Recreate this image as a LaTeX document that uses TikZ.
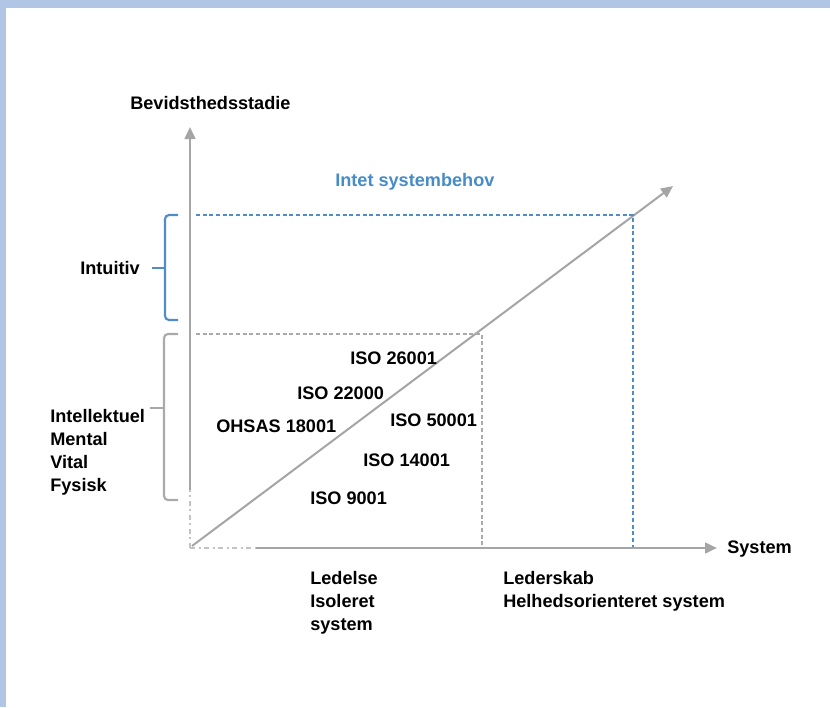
\documentclass[tikz,border=0pt]{standalone}
\usepackage{fontspec}
\setmainfont{Liberation Sans}
\usetikzlibrary{arrows.meta}
\definecolor{frameblue}{RGB}{176,198,228}
\definecolor{axisgray}{RGB}{165,165,165}
\definecolor{lightgray}{RGB}{195,195,195}
\definecolor{dashgray}{RGB}{170,170,170}
\definecolor{lineblue}{RGB}{80,140,200}
\definecolor{textblue}{RGB}{70,140,200}
\tikzset{
  lbl/.style={font=\bfseries\fontsize{13.6}{17.3}\selectfont, inner sep=0pt, anchor=west, align=left},
  axisline/.style={draw=axisgray, line width=1.9pt},
  tipstyle/.style={-{Triangle[length=9pt,width=8pt]}},
  dashdot/.style={draw=lightgray, line width=1.9pt, dash pattern=on 4pt off 2.5pt on 1.5pt off 2.5pt},
  gdash/.style={draw=dashgray, line width=1.1pt, dash pattern=on 3pt off 2pt},
  bdash/.style={draw=lineblue, line width=1.1pt, dash pattern=on 3pt off 2pt},
  bracket/.style={line width=1.6pt, rounded corners=3pt}
}
\begin{document}
\begin{tikzpicture}[x=0.75pt,y=-0.75pt]
\useasboundingbox (0,0) rectangle (830,707);
% frame
\fill[frameblue] (0,0) rectangle (830,8);
\fill[frameblue] (0,0) rectangle (6,707);
% key points
\coordinate (O) at (190,548);
\coordinate (Ytip) at (190,127);
\coordinate (Ybreak) at (190,490);
\coordinate (Xtip) at (717,548);
\coordinate (Xbreak) at (256,548);
\coordinate (Dstart) at (192,546);
\coordinate (Dtip) at (673,186);
\coordinate (G1) at (196,334);
\coordinate (G2) at (482,334);
\coordinate (G3) at (482,547);
\coordinate (B1) at (196,215);
\coordinate (B2) at (633,215);
\coordinate (B3) at (633,547);
% axes
\draw[axisline, tipstyle, fill=axisgray] (Ybreak) -- (Ytip);
\draw[dashdot] (O) -- (Ybreak);
\draw[axisline, tipstyle, fill=axisgray] (Xbreak) -- (Xtip);
\draw[dashdot] (O) -- (Xbreak);
\draw[axisline, tipstyle, fill=axisgray, line width=1.5pt] (Dstart) -- (Dtip);
% dashed guides
\draw[gdash] (G1) -- (G2) -- (G3);
\draw[bdash] (B1) -- (B2) -- (B3);
% brackets
\draw[lineblue, bracket] (178,215) -- (165,215) -- (165,320) -- (178,320);
\draw[lineblue, line width=1.6pt] (165,268) -- (152,268);
\draw[dashgray, bracket] (178,334) -- (164,334) -- (164,500) -- (178,500);
\draw[dashgray, line width=1.6pt] (164,408) -- (150,408);
% labels
\node[lbl] (ytitle) at (130,103) {Bevidsthedsstadie};
\node[lbl, text=textblue] (intet) at (335,182) {Intet systembehov};
\node[lbl] (intuitiv) at (80,268) {Intuitiv};
\node[lbl] (levels) at (50,452) {Intellektuel\\Mental\\Vital\\Fysisk};
\node[lbl] (iso26) at (350,358) {ISO 26001};
\node[lbl] (iso22) at (297,393) {ISO 22000};
\node[lbl] (ohsas) at (216,426) {OHSAS 18001};
\node[lbl] (iso50) at (390,420) {ISO 50001};
\node[lbl] (iso14) at (363,460) {ISO 14001};
\node[lbl] (iso9) at (310,498) {ISO 9001};
\node[lbl] (xtitle) at (727,549) {System};
\node[lbl, anchor=north west] (ledelse) at (310,571) {Ledelse\\Isoleret\\system};
\node[lbl, anchor=north west] (lederskab) at (503,571) {Lederskab\\Helhedsorienteret system};
\end{tikzpicture}
\end{document}
